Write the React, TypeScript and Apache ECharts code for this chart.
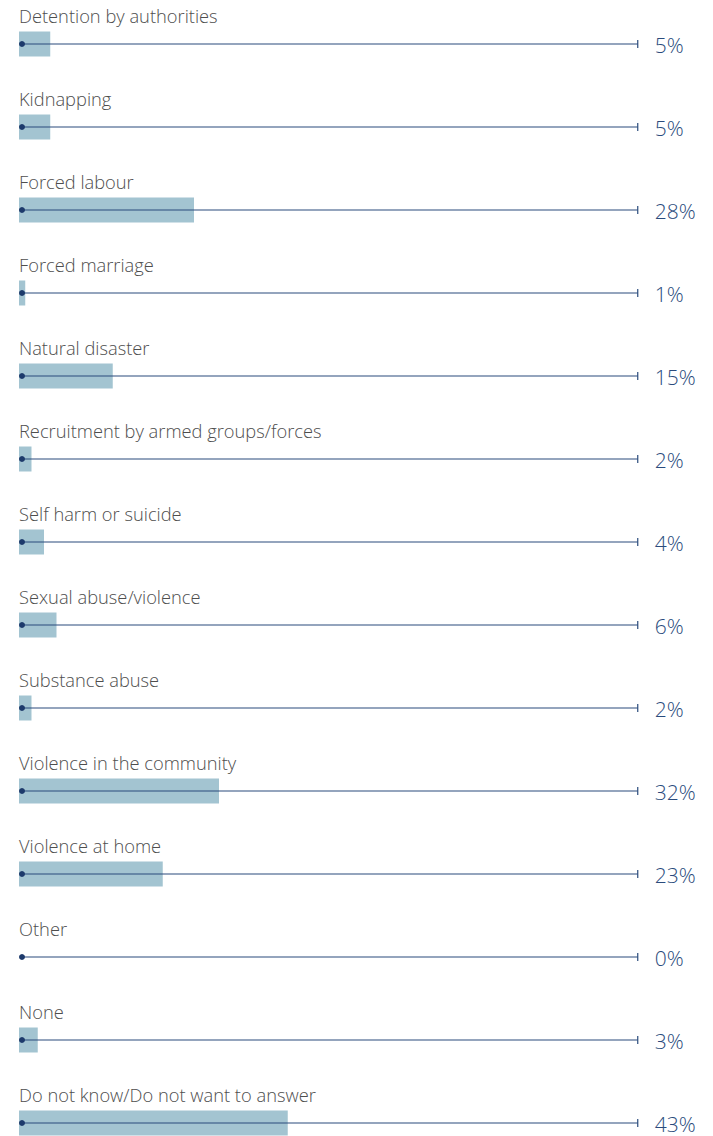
import React, { useEffect, useRef } from "react";
import * as echarts from "echarts";

const categories: string[] = [
  "Detention by authorities",
  "Kidnapping",
  "Forced labour",
  "Forced marriage",
  "Natural disaster",
  "Recruitment by armed groups/forces",
  "Self harm or suicide",
  "Sexual abuse/violence",
  "Substance abuse",
  "Violence in the community",
  "Violence at home",
  "Other",
  "None",
  "Do not know/Do not want to answer",
];

const values: number[] = [5, 5, 28, 1, 15, 2, 4, 6, 2, 32, 23, 0, 3, 43];

const lineEnd = 99;

export default function App() {
  const ref = useRef<HTMLDivElement>(null);
  useEffect(() => {
    if (!ref.current) return;
    const chart = echarts.init(ref.current, undefined, { renderer: "svg" });
    const font = "'Open Sans', Lato, sans-serif";
    chart.setOption({
      animation: false,
      grid: { left: 19, right: 69, top: 44, bottom: 13, containLabel: false },
      xAxis: { type: "value", min: 0, max: 100, show: false },
      yAxis: {
        type: "category",
        data: categories,
        inverse: true,
        boundaryGap: false,
        show: false,
      },
      series: [
        {
          type: "bar",
          data: values,
          barWidth: 25,
          itemStyle: { color: "#a3c4d1" },
          z: 1,
          silent: true,
        },
        {
          type: "custom",
          z: 2,
          silent: true,
          data: categories.map((c, i) => [i, values[i]]),
          renderItem: (params: any, api: any) => {
            const i = api.value(0);
            const v = api.value(1);
            const start = api.coord([0, i]);
            const end = api.coord([lineEnd, i]);
            const lineColor = "#2a4b7c";
            return {
              type: "group",
              children: [
                {
                  type: "line",
                  shape: { x1: start[0] + 2, y1: start[1], x2: end[0], y2: end[1] },
                  style: { stroke: lineColor, lineWidth: 1.2 },
                },
                {
                  type: "line",
                  shape: { x1: end[0], y1: end[1] - 4, x2: end[0], y2: end[1] + 4 },
                  style: { stroke: lineColor, lineWidth: 1.2 },
                },
                {
                  type: "circle",
                  shape: { cx: start[0] + 3, cy: start[1], r: 3 },
                  style: { fill: "#1d3a6b" },
                },
                {
                  type: "text",
                  x: start[0],
                  y: start[1] - 29,
                  style: {
                    text: categories[i],
                    fill: "#4e4e4e",
                    font: `300 18.3px ${font}`,
                    verticalAlign: "middle",
                    align: "left",
                  },
                },
                {
                  type: "text",
                  x: end[0] + 17,
                  y: end[1] + 1,
                  style: {
                    text: `${v}%`,
                    fill: "#2a4b7c",
                    font: `300 21px ${font}`,
                    lineHeight: 18,
                    verticalAlign: "middle",
                    align: "left",
                  },
                },
              ],
            };
          },
        },
      ],
    });
    return () => chart.dispose();
  }, []);
  return (
    <div
      ref={ref}
      style={{ position: "fixed", left: 0, top: 0, width: 713, height: 1136, background: "#fff" }}
    />
  );
}
